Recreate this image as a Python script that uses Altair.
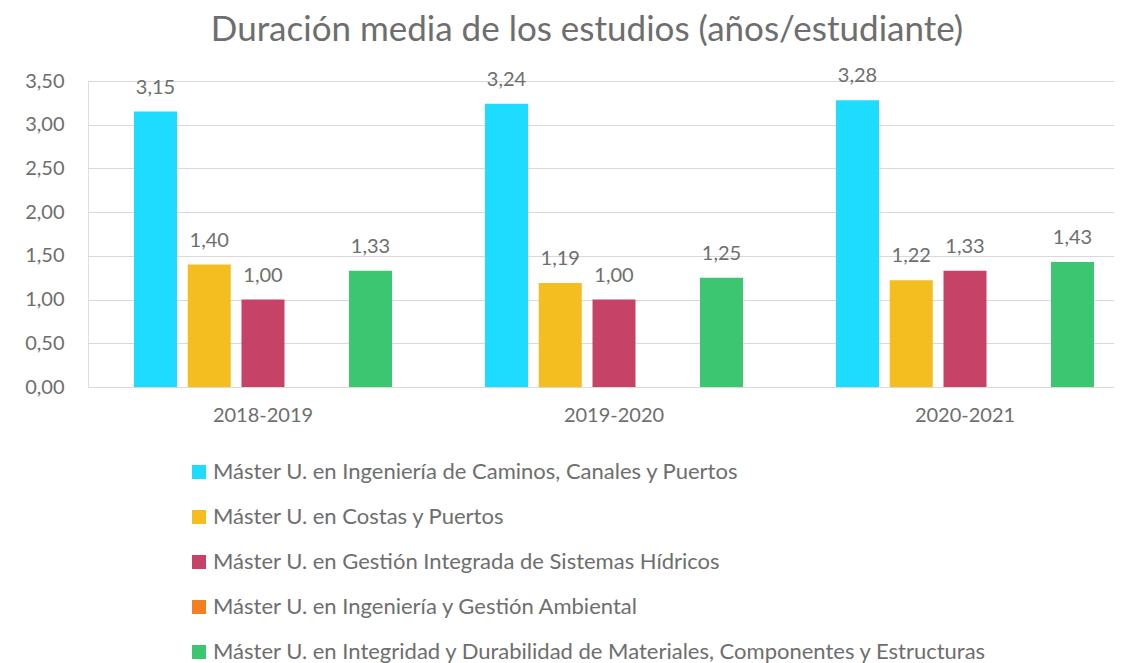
import altair as alt
import pandas as pd

years = ["2018-2019", "2019-2020", "2020-2021"]
series = [
    "Máster U. en Ingeniería de Caminos, Canales y Puertos",
    "Máster U. en Costas y Puertos",
    "Máster U. en Gestión Integrada de Sistemas Hídricos",
    "Máster U. en Ingeniería y Gestión Ambiental",
    "Máster U. en Integridad y Durabilidad de Materiales, Componentes y Estructuras",
]
caminos = [3.15, 3.24, 3.28]
costas = [1.40, 1.19, 1.22]
hidricos = [1.00, 1.00, 1.33]
ambiental = [None, None, None]
integridad = [1.33, 1.25, 1.43]
colors = ["#1DDCFF", "#F4BD20", "#C64266", "#F47E20", "#3CC672"]

values_by_series = [caminos, costas, hidricos, ambiental, integridad]
rows = []
for s, vals in zip(series, values_by_series):
    for y, v in zip(years, vals):
        if v is not None:
            rows.append({"curso": y, "serie": s, "valor": v,
                         "etiqueta": f"{v:.2f}".replace(".", ",")})
df = pd.DataFrame(rows)

FONT = "Lato"
TXT = "#6E6E6E"

x_enc = alt.X("curso:N", sort=years, title=None,
              scale=alt.Scale(paddingInner=0.265, paddingOuter=0.094, align=0.697),
              axis=alt.Axis(labelAngle=0, labelFontSize=20, labelColor=TXT, labelFont=FONT,
                            domainColor="#D9D9D9", domainWidth=1, ticks=False,
                            labelPadding=18))
xo_enc = alt.XOffset("serie:N", sort=series,
                     scale=alt.Scale(domain=series, paddingInner=0.2, paddingOuter=0))
y_enc = alt.Y("valor:Q", title=None,
              scale=alt.Scale(domain=[0, 3.5], nice=False),
              axis=alt.Axis(values=[0, 0.5, 1, 1.5, 2, 2.5, 3, 3.5],
                            labelExpr="replace(format(datum.value, '.2f'), '.', ',')",
                            labelFontSize=20, labelColor=TXT, labelFont=FONT,
                            labelPadding=24, domain=False, ticks=False,
                            gridColor="#D9D9D9", gridWidth=1))
color_enc = alt.Color("serie:N", sort=series, title=None,
                      scale=alt.Scale(domain=series, range=colors),
                      legend=alt.Legend(orient="none", legendX=100, legendY=380,
                                        direction="vertical", symbolType="square",
                                        symbolSize=196, symbolStrokeWidth=0,
                                        labelFontSize=22, labelColor=TXT, labelFont=FONT,
                                        labelOffset=3, labelLimit=1000, rowPadding=23,
                                        padding=0))

bars = alt.Chart(df).mark_bar().encode(x=x_enc, xOffset=xo_enc, y=y_enc, color=color_enc)
labels = alt.Chart(df).mark_text(fontSize=20, color=TXT, font=FONT, baseline="alphabetic",
                                 dy=-18).encode(
    x=alt.X("curso:N", sort=years),
    xOffset=alt.XOffset("serie:N", sort=series),
    y="valor:Q",
    text="etiqueta:N",
)

chart = alt.layer(bars, labels).properties(
    width=1026, height=306,
    title=alt.TitleParams("Duración media de los estudios (años/estudiante)",
                          fontSize=35, color=TXT, font=FONT, fontWeight="normal",
                          anchor="middle", dx=-14, offset=18),
    autosize=alt.AutoSizeParams(type="none"),
    padding={"left": 80, "top": 73, "right": 0, "bottom": 276},
).configure_view(stroke=None).configure(background="white")

chart.save("out.html", embed_options={"renderer": "svg", "actions": False})
